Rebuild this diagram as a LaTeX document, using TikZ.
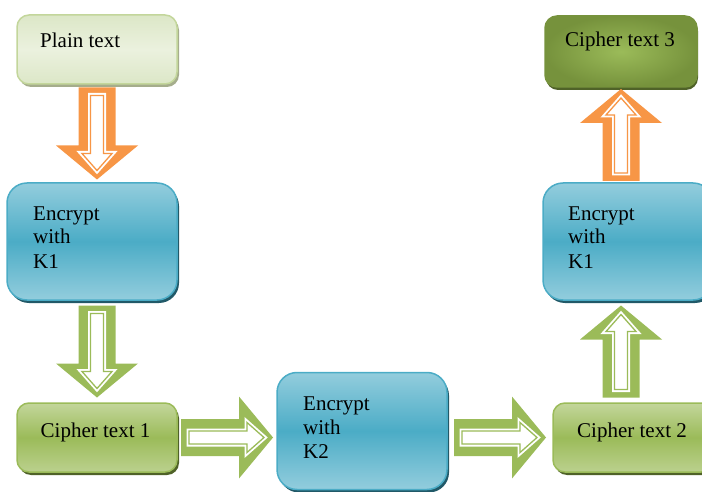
\documentclass[tikz,border=0pt]{standalone}
\usepackage{fontspec}
\setmainfont{Liberation Serif}
\usetikzlibrary{calc,shadows}

\definecolor{arrowor}{HTML}{F79646}
\definecolor{arrowgr}{HTML}{9BBB59}
\definecolor{keylight}{HTML}{93CDDD}
\definecolor{keymid}{HTML}{4BACC6}
\definecolor{keyshadow}{HTML}{215968}
\definecolor{ciphlight}{HTML}{C3D69B}
\definecolor{ciphmid}{HTML}{9BBB59}
\definecolor{ciphshadow}{HTML}{4F6228}
\definecolor{plainfill}{HTML}{EBF1DE}
\definecolor{plainmid}{HTML}{DCE7C7}
\definecolor{plainshadow}{HTML}{A5AD8C}
\definecolor{lastouter}{HTML}{76923C}

\tikzset{
  box/.style={rounded corners=12pt, inner sep=0pt, line width=1.5pt},
  keybox/.style={box, rounded corners=20pt, minimum width=170pt, minimum height=117pt,
    draw=keymid, top color=keylight, bottom color=keylight, middle color=keymid,
    drop shadow={shadow xshift=2pt, shadow yshift=-3pt, fill=keyshadow, opacity=1}},
  ciphbox/.style={box, minimum width=160pt, minimum height=69pt,
    draw=ciphmid, top color=ciphlight, bottom color=ciphlight!80!ciphmid, middle color=ciphmid,
    drop shadow={shadow xshift=2pt, shadow yshift=-3pt, fill=ciphshadow, opacity=1}},
  plainbox/.style={box, minimum width=160pt, minimum height=69pt,
    draw=ciphlight, top color=plainmid, bottom color=plainmid, middle color=plainfill,
    drop shadow={shadow xshift=2pt, shadow yshift=-3pt, fill=plainshadow, opacity=1}},
  lastbox/.style={box, minimum width=152pt, minimum height=71pt,
    draw=lastouter, inner color=ciphmid, outer color=lastouter,
    drop shadow={shadow xshift=1pt, shadow yshift=-3pt, fill=ciphshadow, opacity=1}},
  lbl/.style={anchor=base west, inner sep=0pt, align=left,
    font=\fontsize{21}{24}\selectfont}
}

% hollow block arrow between two points
\newcommand{\hollowarrow}[4]{%
  \begin{scope}[shift={($(#2)!.5!(#3)$)}, rotate=#4]
    \fill[#1] (-46,-18.5) -- (12,-18.5) -- (12,-41) -- (46,0) -- (12,41) -- (12,18.5) -- (-46,18.5) -- cycle;
    \draw[white, fill=white, line width=5pt] (-38,-6.5) -- (20,-6.5) -- (20,-15) -- (37,0) -- (20,15) -- (20,6.5) -- (-38,6.5) -- cycle;
    \draw[#1, line width=1.3pt] (-38,-6.5) -- (20,-6.5) -- (20,-15) -- (37,0) -- (20,15) -- (20,6.5) -- (-38,6.5) -- cycle;
  \end{scope}}

\begin{document}
\begin{tikzpicture}[x=1pt, y=1pt]
  \useasboundingbox (0,0) rectangle (702,491);

  % boxes
  \node[plainbox] (plain) at (97,441.5) {};
  \node[keybox] (enc1) at (92,249.5) {};
  \node[ciphbox] (cipher1) at (97,53.5) {};
  \node[keybox] (enc2) at (362,60) {};
  \node[ciphbox] (cipher2) at (633,53.5) {};
  \node[keybox] (enc3) at (628,249.5) {};
  \node[lastbox] (cipher3) at (621,439.5) {};

  % texts (base = last line)
  \node[lbl] (plaintxt) at (40,443) {Plain text};
  \node[lbl] (enc1txt) at (33,223) {Encrypt\\with\\K1};
  \node[lbl] (cipher1txt) at (40.5,54) {Cipher text 1};
  \node[lbl] (enc2txt) at (303,33) {Encrypt\\with\\K2};
  \node[lbl] (cipher2txt) at (577,54) {Cipher text 2};
  \node[lbl] (enc3txt) at (568,223) {Encrypt\\with\\K1};
  \node[lbl] (cipher3txt) at (565,444) {Cipher text 3};

  % arrows
  \hollowarrow{arrowor}{plain.south}{plain.south |- enc1.north}{-90}
  \hollowarrow{arrowgr}{cipher1.north |- enc1.south}{cipher1.north}{-90}
  \hollowarrow{arrowgr}{cipher1.east}{cipher1.east -| enc2.west}{0}
  \hollowarrow{arrowgr}{cipher2.west -| enc2.east}{cipher2.west}{0}
  \hollowarrow{arrowgr}{cipher3.south |- cipher2.north}{cipher3.south |- enc3.south}{90}
  \hollowarrow{arrowor}{cipher3.south |- enc3.north}{cipher3.south}{90}
\end{tikzpicture}
\end{document}
